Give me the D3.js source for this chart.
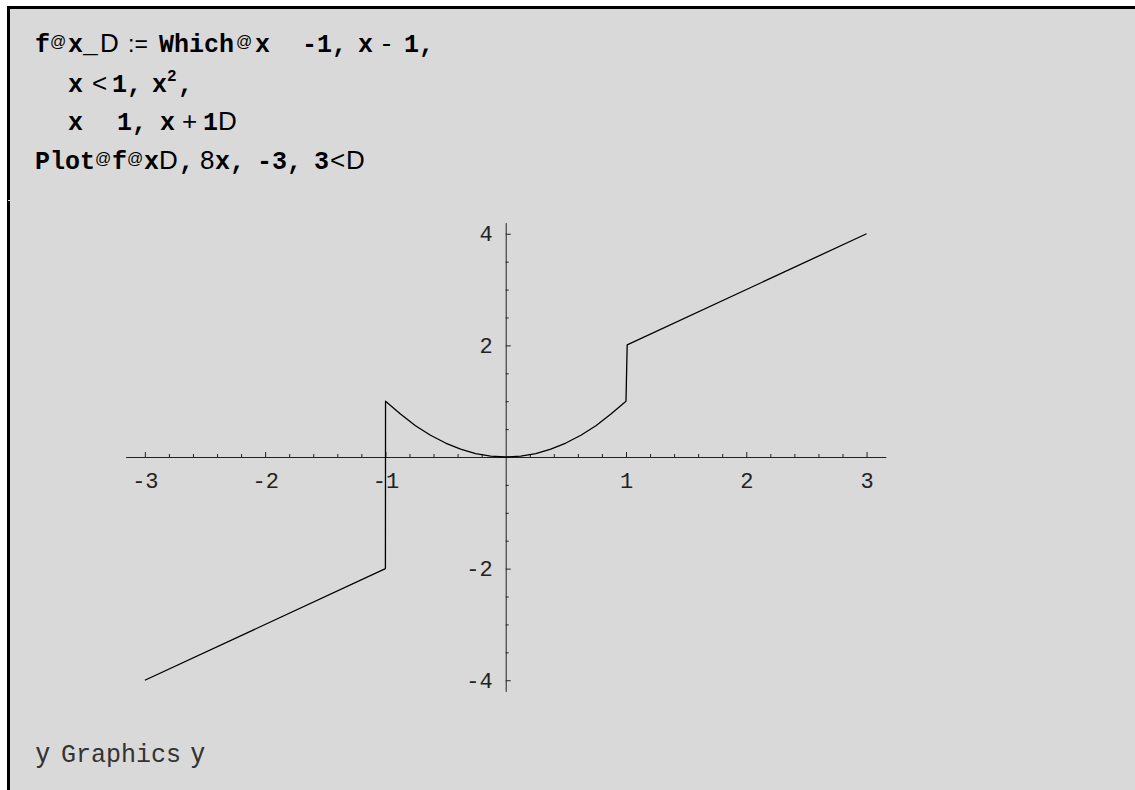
<!DOCTYPE html>
<html>
<head>
<meta charset="utf-8">
<script src="https://cdn.jsdelivr.net/npm/d3@7"></script>
<style>
  html, body { margin: 0; padding: 0; background: #fff; }
  svg { display: block; }
  .code { font-family: "Liberation Mono", "Courier New", monospace; font-size: 25px; font-weight: bold; fill: #000; white-space: pre; }
  .sym { font-family: "Liberation Sans", Arial, sans-serif; font-weight: normal; }
  .out { font-family: "Liberation Mono", "Courier New", monospace; font-size: 25px; fill: #333; white-space: pre; }
</style>
</head>
<body>
<div id="chart"></div>
<script>
const width = 1135;
const height = 790;

// sampled points of the piecewise function as drawn by Plot
const xs = [-3, -1, -0.999, -0.875, -0.75, -0.625, -0.5, -0.375, -0.25, -0.125, 0,
            0.125, 0.25, 0.375, 0.5, 0.625, 0.75, 0.875, 1, 1.01, 3];
const ys = [-4, -2, 1, 0.77, 0.56, 0.39, 0.25, 0.14, 0.06, 0.016, 0,
            0.016, 0.06, 0.14, 0.25, 0.39, 0.56, 0.77, 1, 2.01, 4];

const xMajor = [-3, -2, -1, 1, 2, 3];
const xMinor = [-2.8, -2.6, -2.4, -2.2, -1.8, -1.6, -1.4, -1.2, -0.8, -0.6, -0.4, -0.2,
                0.2, 0.4, 0.6, 0.8, 1.2, 1.4, 1.6, 1.8, 2.2, 2.4, 2.6, 2.8];
const yMajor = [-4, -2, 2, 4];
const yMinor = [-3.5, -3, -2.5, -1.5, -1, -0.5, 0.5, 1, 1.5, 2.5, 3, 3.5];

// input cell, token by token: [text, kind, x]
const codeLines = [
  { y: 52, tokens: [['f', 'b', 35], ['@', 'at', 50], ['x_', 'b', 68], ['D', 'sym', 100], [':=', 'op', 128],
    ['Which', 'b', 159], ['@', 'at', 236], ['x', 'b', 255], ['-1,', 'b', 302], ['x', 'b', 358],
    ['-', 'n', 379], ['1,', 'b', 404]] },
  { y: 92, tokens: [['x', 'b', 68], ['<', 'sym', 92], ['1,', 'b', 112], ['x', 'b', 152], ['2', 'sup', 167],
    [',', 'b', 178]] },
  { y: 130, tokens: [['x', 'b', 68], ['1,', 'b', 117], ['x', 'b', 160], ['+', 'sym', 182], ['1', 'b', 203],
    ['D', 'sym', 218]] },
  { y: 169, tokens: [['Plot', 'b', 35], ['@', 'at', 95], ['f', 'b', 112], ['@', 'at', 127], ['x', 'b', 144],
    ['D', 'sym', 159], [',', 'b', 179], ['8', 'sym', 200], ['x', 'b', 215], [',', 'b', 230],
    ['-3,', 'b', 257], ['3', 'b', 314], ['<', 'sym', 330], ['D', 'sym', 346]] },
];

const svg = d3.select('#chart')
  .append('svg')
  .attr('width', width)
  .attr('height', height);

// notebook cell background + bracket border
svg.append('rect')
  .attr('x', 8).attr('y', 7)
  .attr('width', width - 8).attr('height', height - 7)
  .attr('fill', '#d9d9d9');
svg.append('rect').attr('x', 7).attr('y', 6).attr('width', width - 7).attr('height', 3).attr('fill', '#000');
svg.append('rect').attr('x', 7).attr('y', 6).attr('width', 3).attr('height', height - 6).attr('fill', '#000');
svg.append('rect').attr('x', 8).attr('y', 200).attr('width', 2).attr('height', 1).attr('fill', '#ddd');

codeLines.forEach(ln => {
  const t = svg.append('text').attr('class', 'code').attr('y', ln.y);
  ln.tokens.forEach(([s, kind, px]) => {
    const sp = t.append('tspan').attr('x', px).attr('y', ln.y).text(s);
    if (kind === 'at') sp.attr('class', 'sym').style('font-size', '16px').attr('y', ln.y - 5);
    if (kind === 'sym') sp.attr('class', 'sym').style('font-size', '26px');
    if (kind === 'op') sp.attr('class', 'sym').style('font-size', '23px');
    if (kind === 'n') sp.style('font-weight', 'normal');
    if (kind === 'sup') sp.style('font-size', '16px').attr('y', ln.y - 11);
  });
});

// plot
const x = d3.scaleLinear().domain([-3.16, 3.16]).range([125.6, 885.8]);
const y = d3.scaleLinear().domain([-4.2, 4.2]).range([691.4, 222.6]);

const axisColor = '#222';

const gx = svg.append('g').attr('transform', `translate(0,${y(0)})`);
gx.call(d3.axisBottom(x).tickValues(xMinor).tickSize(-3).tickSizeOuter(0).tickFormat(''));
const gx2 = svg.append('g').attr('transform', `translate(0,${y(0)})`);
gx2.call(d3.axisBottom(x).tickValues(xMajor).tickSize(-5).tickSizeOuter(0).tickPadding(15)
  .tickFormat(d => String(d)));
gx2.select('.domain').remove();

const gy = svg.append('g').attr('transform', `translate(${x(0)},0)`);
gy.call(d3.axisLeft(y).tickValues(yMinor).tickSize(-3).tickSizeOuter(0).tickFormat(''));
const gy2 = svg.append('g').attr('transform', `translate(${x(0)},0)`);
gy2.call(d3.axisLeft(y).tickValues(yMajor).tickSize(-5).tickSizeOuter(0).tickPadding(13)
  .tickFormat(d => String(d)));
gy2.select('.domain').remove();

svg.selectAll('.domain, .tick line').attr('stroke', axisColor).attr('stroke-width', 1);
svg.selectAll('.tick text')
  .attr('fill', '#222')
  .style('font-family', '"Liberation Mono", "Courier New", monospace')
  .style('font-size', '22px');

const pts = xs.map((d, i) => [d, ys[i]]);
svg.append('path')
  .datum(pts)
  .attr('fill', 'none')
  .attr('stroke', '#000')
  .attr('stroke-width', 1.3)
  .attr('stroke-linejoin', 'round')
  .attr('d', d3.line().x(d => x(d[0])).y(d => y(d[1])));

// output line
const out = svg.append('text').attr('class', 'out').attr('y', 762);
out.append('tspan').attr('x', 36).attr('class', 'sym').style('font-size', '27px').text('y');
out.append('tspan').attr('x', 61).text('Graphics');
out.append('tspan').attr('x', 191).attr('class', 'sym').style('font-size', '27px').text('y');
</script>
</body>
</html>
